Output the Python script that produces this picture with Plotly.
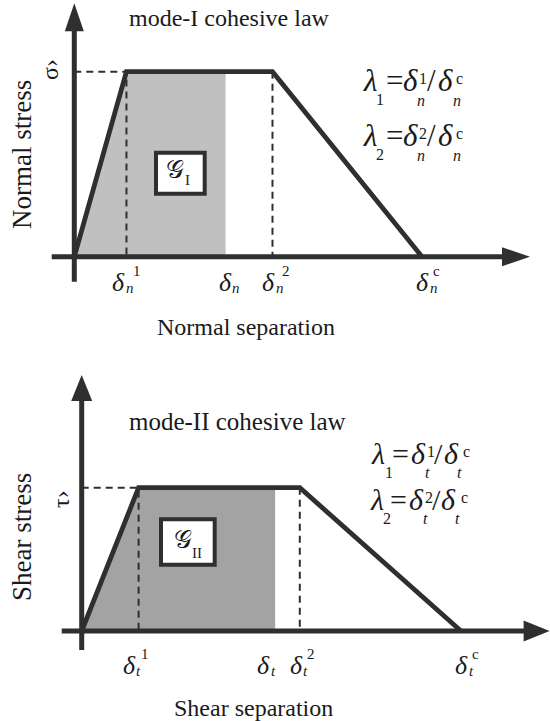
import plotly.graph_objects as go

W, H = 550, 721

# ---------------- cohesive-law data (separation normalised by the critical value,
# traction normalised by the peak value) ----------------
mode_i_sep = [0.0, 0.15, 0.57, 1.0]      # 0, δn1, δn2, δnc
mode_i_trac = [0.0, 1.0, 1.0, 0.0]       # 0, σ̂, σ̂, 0
mode_i_delta = 0.435                     # current opening δn (end of shaded work)

mode_ii_sep = [0.0, 0.15, 0.575, 1.0]    # 0, δt1, δt2, δtc
mode_ii_trac = [0.0, 1.0, 1.0, 0.0]      # 0, τ̂, τ̂, 0
mode_ii_delta = 0.51                     # current sliding δt

# tick symbols: (base, subscript, superscript)
mode_i_ticks = [("δ", "n", "1"), ("δ", "n", ""), ("δ", "n", "2"), ("δ", "n", "c")]
mode_ii_ticks = [("δ", "t", "1"), ("δ", "t", ""), ("δ", "t", "2"), ("δ", "t", "c")]

# ---------------- page geometry (pixels) ----------------
DARK = "#2f2f2f"
TXT = "#1a1a1a"
SERIF = "Liberation Serif, Times New Roman, serif"
ASC = 0.891    # ascent of the serif face, in em
DESC = 0.216   # descent of the serif face, in em

# origin (px), unit length (px), vertical band (px) for each panel
PANELS = {
    "top": dict(ox=74.3, oy=256.7, ux=347.7, uy=185.0, band=(0, 360)),
    "bot": dict(ox=81.7, oy=631.0, ux=379.3, uy=143.3, band=(360, 721)),
}


def px(x, y):
    return x / W, 1 - y / H


def to_data(p, xp, yp):
    return (xp - p["ox"]) / p["ux"], (p["oy"] - yp) / p["uy"]


fig = go.Figure()


def add_panel(xa, ya, sep, trac, cur, fill):
    peak = trac[1]
    # shaded work area: ramp, plateau up to current separation, back to axis
    fig.add_trace(go.Scatter(
        x=[sep[0], sep[1], cur, cur, sep[0]],
        y=[trac[0], peak, peak, 0, trac[0]],
        fill="toself", fillcolor=fill, line=dict(width=0),
        mode="lines", hoverinfo="skip", showlegend=False,
        xaxis=xa, yaxis=ya))
    # dashed guides at the two kinks and at peak traction
    fig.add_trace(go.Scatter(
        x=[0, sep[1], sep[1], None, sep[2], sep[2]],
        y=[peak, peak, 0, None, peak, 0],
        mode="lines", line=dict(color=DARK, width=2, dash="7px,5px"),
        hoverinfo="skip", showlegend=False, xaxis=xa, yaxis=ya))
    # trapezoidal traction-separation law
    fig.add_trace(go.Scatter(
        x=sep, y=trac, mode="lines",
        line=dict(color=DARK, width=4.8),
        hoverinfo="skip", showlegend=False, xaxis=xa, yaxis=ya))


add_panel("x", "y", mode_i_sep, mode_i_trac, mode_i_delta, "#c0c0c0")
add_panel("x2", "y2", mode_ii_sep, mode_ii_trac, mode_ii_delta, "#a3a3a3")

shapes = []
annotations = []


def axes_arrows(key, xr, yr, x_from, x_tip, y_from, y_tip, head_len, head_half):
    p = PANELS[key]
    x0, _ = to_data(p, x_from, 0)
    x1, _ = to_data(p, x_tip - head_len + 2, 0)
    xt, _ = to_data(p, x_tip, 0)
    _, y0 = to_data(p, 0, y_from)
    _, y1 = to_data(p, 0, y_tip + head_len - 2)
    _, yt = to_data(p, 0, y_tip)
    shapes.append(dict(type="line", xref=xr, yref=yr, x0=x0, x1=x1, y0=0, y1=0,
                       line=dict(color=DARK, width=5)))
    shapes.append(dict(type="line", xref=xr, yref=yr, x0=0, x1=0, y0=y0, y1=y1,
                       line=dict(color=DARK, width=5)))
    shapes.append(dict(type="path", xref=xr, yref=yr, xsizemode="pixel", ysizemode="pixel",
                       xanchor=xt, yanchor=0,
                       path=f"M 0,0 L {-head_len},{head_half} L {-head_len},{-head_half} Z",
                       fillcolor=DARK, line=dict(width=0)))
    shapes.append(dict(type="path", xref=xr, yref=yr, xsizemode="pixel", ysizemode="pixel",
                       xanchor=0, yanchor=yt,
                       path=f"M 0,0 L {-head_half},{-head_len} L {head_half},{-head_len} Z",
                       fillcolor=DARK, line=dict(width=0)))


axes_arrows("top", "x", "y", 51.7, 530, 281.7, 3.3, 28, 9.5)
axes_arrows("bot", "x2", "y2", 61.7, 549.6, 650, 375, 26, 10.5)


# ---------------- text helpers ----------------
def ann(t, x, y, size, xanchor="center", yanchor="middle", angle=0,
        family=SERIF, xref="paper", xshift=0):
    xx = x / W if xref == "paper" else x
    annotations.append(dict(
        text=t, x=xx, y=1 - y / H, xref=xref, yref="paper", xshift=xshift,
        xanchor=xanchor, yanchor=yanchor, showarrow=False,
        textangle=angle, borderpad=0, borderwidth=0,
        font=dict(family=family, size=size, color=TXT)))


def text(t, x, y, size, italic=False, angle=0, family=SERIF):
    ann(f"<i>{t}</i>" if italic else t, x, y, size, angle=angle, family=family)


def put(t, x_left, base, size, italic=False, xref="paper", xshift=0):
    """glyph run whose pen starts at x_left and sits on the baseline `base`"""
    ann(f"<i>{t}</i>" if italic else t, x_left, base + DESC * size, size,
        xanchor="left", yanchor="bottom", xref=xref, xshift=xshift)


# titles, axis names
text("mode-I cohesive law", 229, 18, 24)
text("mode-II cohesive law", 237, 421, 25)
text("Normal separation", 246, 327, 24)
text("Shear separation", 253, 708, 24)
text("Normal stress", 22, 155, 27, angle=-90)
text("Shear stress", 22, 537, 27, angle=-90)

# peak traction symbols
text("σ›", 50, 70, 24, angle=-90)
text("τ›", 61, 499, 24, angle=-90)

# separation tick symbols: pen start relative to the tick, pen start of the superscript
TICK_TOP = [(-14, 21), (-6.7, 0), (-10, 20), (-6, 16.8)]
TICK_BOT = [(-15.7, 18.5), (-18, 0), (-10, 17), (-6, 16.5)]
D_ADV = 13.5   # advance of the italic δ at 26 px


def tick_labels(xref, sep, cur, labels, offs, base):
    xs = [sep[1], cur, sep[2], sep[3]]
    for v, (b, s, sup), (dx, g) in zip(xs, labels, offs):
        put(b, v, base, 26, italic=True, xref=xref, xshift=dx)
        put(s, v, base + 2, 15, italic=True, xref=xref, xshift=dx + D_ADV)
        if sup:
            put(sup, v, base - 15, 15, xref=xref, xshift=dx + g)


tick_labels("x", mode_i_sep, mode_i_delta, mode_i_ticks, TICK_TOP, 291)
tick_labels("x2", mode_ii_sep, mode_ii_delta, mode_ii_ticks, TICK_BOT, 674)


# λ definitions; pen positions of λ, index, '=', δ, sup, '/', δ, 'c', and the two subscripts
def lam_line(base, idx, sub, sz, pos):
    lx, ix, ex, d1, s1, sl, d2, cx, n1, n2 = pos
    put("λ", lx, base, sz, italic=True)
    put(idx, ix, base + 13.5, 16)
    put("=", ex, base, sz)
    put("δ", d1, base, sz, italic=True)
    put(idx, s1, base - 7.5, 16)
    put("/", sl, base, sz)
    put("δ", d2, base, sz, italic=True)
    put("c", cx, base - 7.5, 16)
    put(sub, n1, base + 14, 16, italic=True)
    put(sub, n2, base + 14, 16, italic=True)


TOP_POS = (362.5, 376.2, 385.7, 403.2, 419.2, 427.2, 438.3, 456.3, 417.0, 452.5)
BOT_POS1 = (371, 385.0, 391.5, 411.4, 426.6, 434.4, 443.7, 462.7, 424.5, 457.0)
BOT_POS2 = (370, 382.5, 389.5, 409.4, 424.6, 432.4, 441.2, 460.7, 422.5, 455.0)
lam_line(91.5, "1", "n", 31, TOP_POS)
lam_line(146.5, "2", "n", 31, TOP_POS)
lam_line(464, "1", "t", 30, BOT_POS1)
lam_line(510, "2", "t", 30, BOT_POS2)

# dissipated-energy boxes
for (x0, y0, x1, y1), (gx, gy), (sx, sb), sub in [
    ((156, 152.7, 204.7, 193.7), (175, 169), (184.5, 185), "I"),
    ((161, 519.3, 214.7, 564.7), (182.5, 539), (191.5, 557.5), "II"),
]:
    a0, b0 = px(x0, y1)
    a1, b1 = px(x1, y0)
    shapes.append(dict(type="rect", xref="paper", yref="paper", x0=a0, x1=a1, y0=b0, y1=b1,
                       fillcolor="white", line=dict(color=DARK, width=4)))
    text("𝒢", gx, gy, 25, family="DejaVu Serif, Noto Sans, serif")
    put(sub, sx, sb, 15)


def ranges(p):
    ytop, ybot = p["band"]
    xr = [-p["ox"] / p["ux"], (W - p["ox"]) / p["ux"]]
    yr = [(p["oy"] - ybot) / p["uy"], (p["oy"] - ytop) / p["uy"]]
    dom = [1 - ybot / H, 1 - ytop / H]
    return xr, yr, dom


xr1, yr1, d1 = ranges(PANELS["top"])
xr2, yr2, d2 = ranges(PANELS["bot"])
hidden = dict(visible=False, fixedrange=True)

fig.update_layout(
    width=W, height=H, margin=dict(l=0, r=0, t=0, b=0),
    paper_bgcolor="white", plot_bgcolor="rgba(0,0,0,0)",
    showlegend=False,
    xaxis=dict(range=xr1, domain=[0, 1], anchor="y", **hidden),
    yaxis=dict(range=yr1, domain=d1, anchor="x", **hidden),
    xaxis2=dict(range=xr2, domain=[0, 1], anchor="y2", **hidden),
    yaxis2=dict(range=yr2, domain=d2, anchor="x2", **hidden),
    shapes=shapes, annotations=annotations,
)

fig.write_html("out.html", config={"displayModeBar": False})
